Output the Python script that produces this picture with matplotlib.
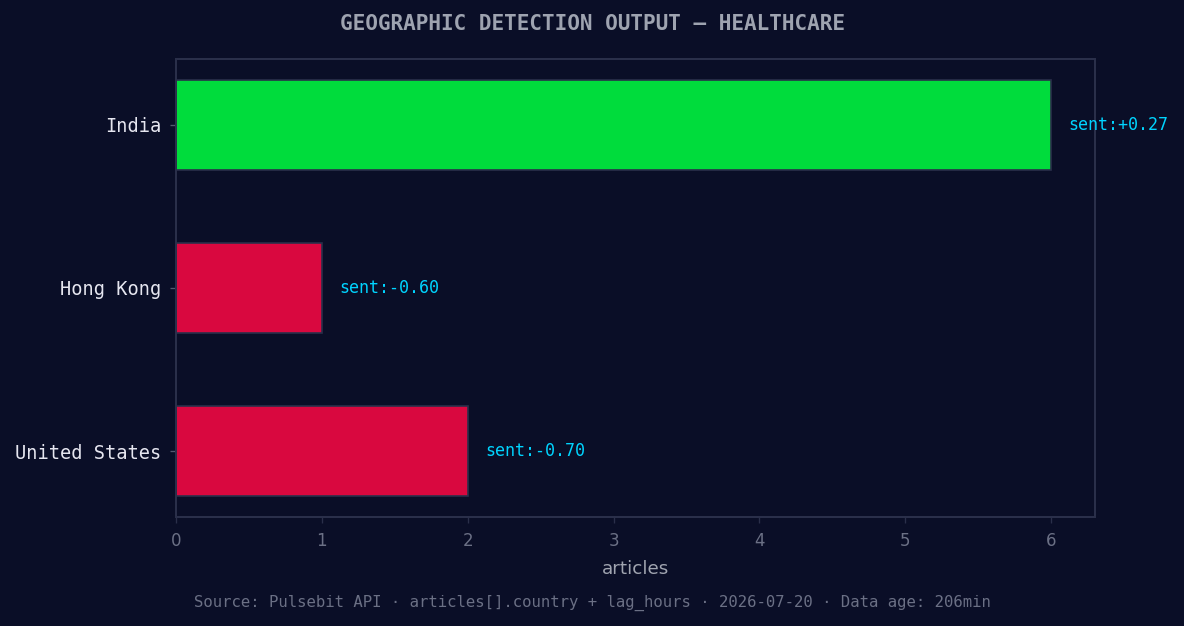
import matplotlib
matplotlib.use('Agg')
import matplotlib.pyplot as plt

# data
countries = ['United States', 'Hong Kong', 'India']
articles = [2, 1, 6]
sentiment = [-0.70, -0.60, 0.27]

bg = '#0a0e27'
edge = '#2a2f4a'

fig = plt.figure(figsize=(1184 / 120, 626 / 120), dpi=120, facecolor=bg)
ax = fig.add_subplot(1, 1, 1)
ax.set_facecolor(bg)
fig.subplots_adjust(left=0.1486, right=0.9248, top=0.9058, bottom=0.1741)

colors = ['#00dc3c' if s > 0 else '#d9083f' for s in sentiment]
ax.barh(countries, articles, height=0.55, color=colors, edgecolor=edge, linewidth=1)

for i, (n, s) in enumerate(zip(articles, sentiment)):
    ax.text(n + 0.12, i, 'sent:%+.2f' % s, va='center', ha='left',
            color='#00d4ff', fontsize=10, family='DejaVu Sans Mono')

ax.set_xlim(0, 6.3)
ax.set_xlabel('articles', color='#a0a4b0', fontsize=11, labelpad=6)

for sp in ax.spines.values():
    sp.set_color(edge)
    sp.set_linewidth(1.2)

ax.tick_params(axis='x', colors=edge, labelcolor='#6b7085', labelsize=10, pad=5.3)
ax.tick_params(axis='y', colors='#555a70', labelcolor='#e6e6f0', labelsize=11.15, pad=5.3)
for lab in ax.get_yticklabels():
    lab.set_family('DejaVu Sans Mono')

fig.text(0.5, 1 - 24 / 626, 'GEOGRAPHIC DETECTION OUTPUT — HEALTHCARE', ha='center', va='center',
         color='#9ea3b0', fontsize=12.6, fontweight='bold', family='DejaVu Sans Mono')
fig.text(0.5, 1 - 603 / 626,
         'Source: Pulsebit API · articles[].country + lag_hours · 2026-07-20 · Data age: 206min',
         ha='center', va='center', color='#6b7085', fontsize=9.4, family='DejaVu Sans Mono')

fig.savefig('out.png', dpi=120, facecolor=bg)
